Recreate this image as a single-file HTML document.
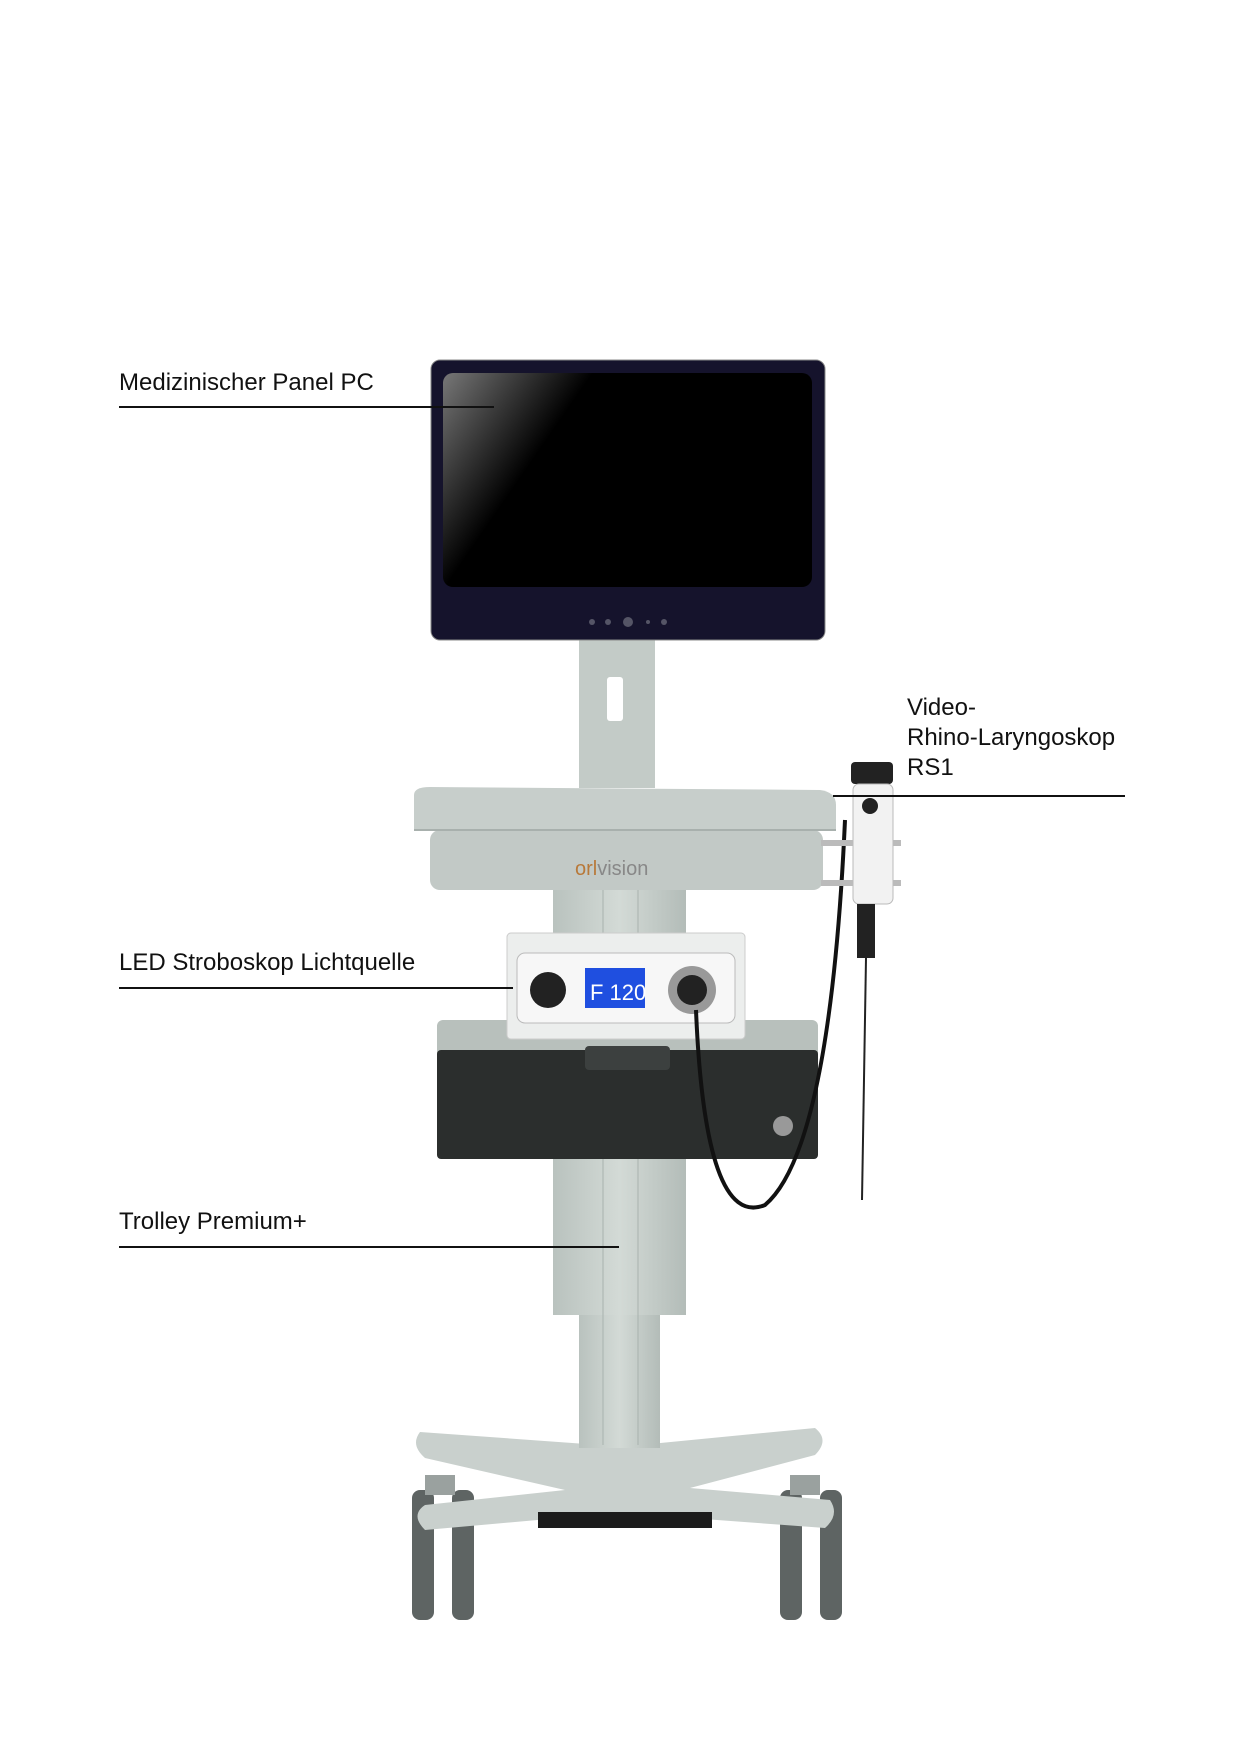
<!DOCTYPE html>
<html><head><meta charset="utf-8"><style>
html,body{margin:0;padding:0;background:#fff}
body{width:1240px;height:1754px;position:relative;overflow:hidden;font-family:"Liberation Sans",sans-serif}
.l{position:absolute;font-size:24px;color:#111;line-height:30px}
.ln{position:absolute;height:2px;background:#111}
</style></head><body>
<svg width="1240" height="1754" style="position:absolute;left:0;top:0">
<defs>
<linearGradient id="scr" x1="0" y1="0" x2="1" y2="0.4"><stop offset="0" stop-color="#777"/><stop offset="0.35" stop-color="#000"/><stop offset="1" stop-color="#000"/></linearGradient>
<linearGradient id="gr" x1="0" y1="0" x2="1" y2="0"><stop offset="0" stop-color="#b9c2be"/><stop offset="0.5" stop-color="#d3dad6"/><stop offset="1" stop-color="#b3bcb8"/></linearGradient>
</defs>
<!-- wheels -->
<g fill="#5e6463">
<rect x="412" y="1490" width="22" height="130" rx="8"/><rect x="452" y="1490" width="22" height="130" rx="8"/>
<rect x="780" y="1490" width="22" height="130" rx="8"/><rect x="820" y="1490" width="22" height="130" rx="8"/>
</g>
<g fill="#9aa19f"><rect x="425" y="1475" width="30" height="20"/><rect x="790" y="1475" width="30" height="20"/></g>
<!-- base X -->
<path d="M420 1432 Q410 1445 425 1458 L565 1490 L425 1505 Q410 1515 425 1530 L560 1518 L690 1518 L825 1528 Q840 1515 830 1500 L690 1488 L815 1455 Q830 1440 815 1428 L640 1445 L600 1445 Z" fill="#c9d0cd"/>
<rect x="538" y="1512" width="174" height="16" fill="#1c1c1c"/>
<!-- column -->
<rect x="579" y="1300" width="81" height="148" fill="url(#gr)"/>
<rect x="553" y="890" width="133" height="425" fill="url(#gr)"/>
<line x1="603" y1="890" x2="603" y2="1445" stroke="#a9b2ae"/><line x1="638" y1="890" x2="638" y2="1445" stroke="#a9b2ae"/>
<!-- drawer -->
<rect x="437" y="1020" width="381" height="139" rx="6" fill="#b8c0bc"/>
<rect x="437" y="1050" width="381" height="109" rx="4" fill="#2b2e2d"/>
<rect x="585" y="1046" width="85" height="24" rx="4" fill="#3c403f"/>
<circle cx="783" cy="1126" r="10" fill="#999"/>
<!-- light source -->
<rect x="507" y="933" width="238" height="106" rx="4" fill="#eceeed" stroke="#ccc"/>
<rect x="517" y="953" width="218" height="70" rx="8" fill="#f7f7f7" stroke="#bbb"/>
<circle cx="548" cy="990" r="18" fill="#222"/>
<rect x="585" y="968" width="60" height="40" fill="#1f4fe0"/>
<text x="590" y="1000" font-size="22" fill="#fff" font-family="Liberation Sans">F 120</text>
<circle cx="692" cy="990" r="24" fill="#999"/><circle cx="692" cy="990" r="15" fill="#222"/>
<!-- tray -->
<path d="M414 795 Q414 787 430 787 L820 790 Q836 792 836 805 L836 830 L414 830Z" fill="#c7cecb"/>
<rect x="430" y="830" width="393" height="60" rx="10" fill="#c2c9c6"/>
<line x1="414" y1="830" x2="836" y2="830" stroke="#a8b0ad" stroke-width="2"/>
<text x="575" y="875" font-size="20" fill="#b8793a" font-family="Liberation Sans">orl<tspan fill="#888">vision</tspan></text>
<!-- neck -->
<rect x="579" y="638" width="76" height="150" fill="#c3cbc7"/>
<rect x="607" y="677" width="16" height="44" rx="3" fill="#fff"/>
<!-- monitor -->
<rect x="431" y="360" width="394" height="280" rx="9" fill="#15132c" stroke="#888"/>
<rect x="443" y="373" width="369" height="214" rx="10" fill="url(#scr)"/>
<g fill="#556"><circle cx="592" cy="622" r="3"/><circle cx="608" cy="622" r="3"/><circle cx="628" cy="622" r="5"/><circle cx="648" cy="622" r="2"/><circle cx="664" cy="622" r="3"/></g>
<!-- cables -->
<path d="M696 1010 Q705 1230 765 1205 Q830 1150 845 820" fill="none" stroke="#111" stroke-width="4"/>
<line x1="866" y1="958" x2="862" y2="1200" stroke="#222" stroke-width="2"/>
<!-- scope -->
<rect x="821" y="840" width="80" height="6" fill="#bbb"/><rect x="821" y="880" width="80" height="6" fill="#bbb"/>
<rect x="851" y="762" width="42" height="22" rx="4" fill="#222"/>
<rect x="853" y="784" width="40" height="120" rx="6" fill="#f2f2f2" stroke="#bbb"/>
<rect x="857" y="904" width="18" height="54" fill="#222"/>
<circle cx="870" cy="806" r="8" fill="#222"/>
</svg>
<div class="l" style="left:119px;top:368px">Medizinischer Panel PC</div>
<div class="ln" style="left:119px;top:406px;width:375px"></div>
<div class="l" style="left:907px;top:693px">Video-<br>Rhino-Laryngoskop<br>RS1</div>
<div class="ln" style="left:833px;top:795px;width:292px"></div>
<div class="l" style="left:119px;top:948px">LED Stroboskop Lichtquelle</div>
<div class="ln" style="left:119px;top:987px;width:394px"></div>
<div class="l" style="left:119px;top:1207px">Trolley Premium+</div>
<div class="ln" style="left:119px;top:1246px;width:500px"></div>
</body></html>
